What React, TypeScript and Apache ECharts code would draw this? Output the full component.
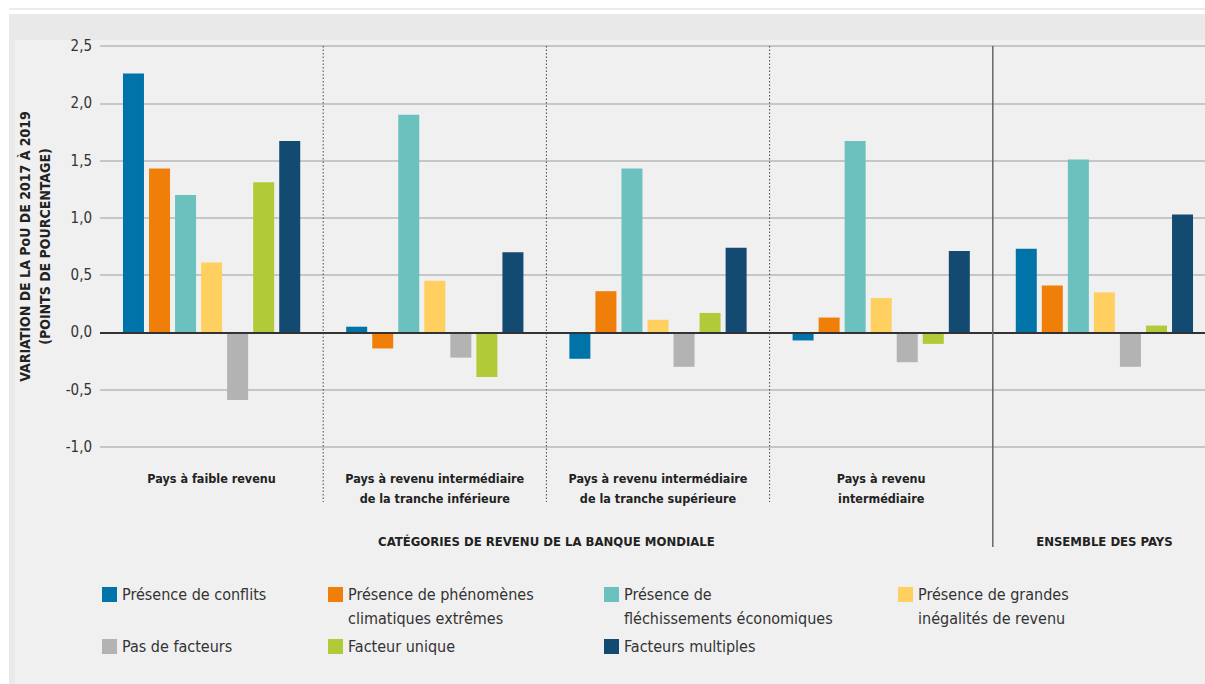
import React, { useEffect, useRef } from "react";
import * as echarts from "echarts";

const categories = [
  "Pays à faible revenu",
  "Pays à revenu intermédiaire\nde la tranche inférieure",
  "Pays à revenu intermédiaire\nde la tranche supérieure",
  "Pays à revenu\nintermédiaire",
  "Ensemble des pays",
];

const seriesNames = [
  "Présence de conflits",
  "Présence de phénomènes\nclimatiques extrêmes",
  "Présence de\nfléchissements économiques",
  "Présence de grandes\ninégalités de revenu",
  "Pas de facteurs",
  "Facteur unique",
  "Facteurs multiples",
];

const conflits = [2.26, 0.05, -0.23, -0.07, 0.73];
const climat = [1.43, -0.14, 0.36, 0.13, 0.41];
const flechissements = [1.2, 1.9, 1.43, 1.67, 1.51];
const inegalites = [0.61, 0.45, 0.11, 0.3, 0.35];
const pasDeFacteurs = [-0.59, -0.22, -0.3, -0.26, -0.3];
const facteurUnique = [1.31, -0.39, 0.17, -0.1, 0.06];
const facteursMultiples = [1.67, 0.7, 0.74, 0.71, 1.03];

const seriesValues = [conflits, climat, flechissements, inegalites, pasDeFacteurs, facteurUnique, facteursMultiples];
const colors = ["#0073A8", "#F07F09", "#6BC1BE", "#FFCF60", "#B3B3B3", "#B0CA38", "#124A72"];

const yMin = -1;
const yMax = 2.5;
const yStep = 0.5;

const yTitle = "VARIATION DE LA PoU DE 2017 À 2019\n(POINTS DE POURCENTAGE)";
const groupTitle = "CATÉGORIES DE REVENU DE LA BANQUE MONDIALE";
const allTitle = "ENSEMBLE DES PAYS";

const NARROW = "'DejaVu Sans Condensed', 'Liberation Sans Narrow', sans-serif";
const LEGEND_FONT = "'DejaVu Sans Condensed', 'Liberation Sans Narrow', sans-serif";

const VIEW_W = 1205;
const CHART_W = 1216;
const H = 684;

// legend layout: [left, iconTop]
const legendPos = [
  [102, 587],
  [328, 587],
  [604, 587],
  [898, 587],
  [102, 639],
  [328, 639],
  [604, 639],
];

export default function App() {
  const ref = useRef<HTMLDivElement>(null);

  useEffect(() => {
    if (!ref.current) return;
    const chart = echarts.init(ref.current, undefined, { renderer: "svg" });

    const legends = seriesNames.map((name, i) => {
      const twoLine = name.includes("\n");
      const iconH = 15;
      const L = 24;
      const offset = twoLine ? (3 * L) / 2 - iconH / 2 : L / 2 - iconH / 2;
      return {
        data: [name],
        left: legendPos[i][0],
        top: legendPos[i][1] - offset,
        padding: 0,
        icon: "rect",
        itemWidth: 15,
        itemHeight: iconH,
        selectedMode: false,
        formatter: (n: string) => (n.includes("\n") ? "\n" + n : n),
        textStyle: {
          fontFamily: LEGEND_FONT,
          fontSize: 16,
          color: "#333",
          lineHeight: L,
        },
      };
    });

    const series = seriesNames.map((name, i) => {
      const s: any = {
        name,
        type: "bar",
        data: seriesValues[i],
        barWidth: 21,
        barGap: "24%",
        itemStyle: { color: colors[i] },
        emphasis: { disabled: true },
      };
      if (i === seriesNames.length - 1) {
        s.markLine = {
          silent: true,
          symbol: "none",
          label: { show: false },
          lineStyle: { color: "#333", width: 2, type: "solid" },
          data: [{ yAxis: 0 }],
        };
      }
      return s;
    });

    chart.setOption({
      animation: false,
      backgroundColor: "#f0f0f0",
      color: colors,
      grid: { left: 100, right: 0, top: 46, bottom: 237, containLabel: false },
      legend: legends,
      xAxis: {
        type: "category",
        data: categories,
        axisLine: { show: false },
        axisTick: { show: false },
        splitLine: { show: false },
        axisLabel: {
          interval: 0,
          margin: 21,
          fontFamily: NARROW,
          fontSize: 12.5,
          fontWeight: "bold",
          lineHeight: 20,
          color: "#222",
          formatter: (v: string, i: number) => (i === categories.length - 1 ? "" : v),
        },
      },
      yAxis: {
        type: "value",
        min: yMin,
        max: yMax,
        interval: yStep,
        axisLine: { show: false },
        axisTick: { show: false },
        axisLabel: {
          margin: 8,
          fontFamily: NARROW,
          fontSize: 15,
          color: "#333",
          formatter: (v: number) => v.toFixed(1).replace(".", ","),
        },
        splitLine: { lineStyle: { color: "#b8b8b8", width: 1.5 } },
        name: yTitle,
        nameLocation: "middle",
        nameGap: 45,
        nameRotate: 90,
        nameTextStyle: {
          fontFamily: NARROW,
          fontSize: 14,
          fontWeight: "bold",
          lineHeight: 20,
          color: "#222",
        },
      },
      series,
    });

    const cx = categories.map((_, i) => chart.convertToPixel({ xAxisIndex: 0 }, i) as number);
    const step = cx[1] - cx[0];
    const leftEdge = cx[0] - step / 2;
    const yTop = chart.convertToPixel({ yAxisIndex: 0 }, yMax) as number;
    const bounds = [1, 2, 3, 4].map((i) => (cx[i - 1] + cx[i]) / 2);

    const graphics: any[] = [
      { type: "rect", silent: true, z: -10, shape: { x: 0, y: 0, width: CHART_W, height: 14 }, style: { fill: "#ffffff" } },
      { type: "rect", silent: true, z: -10, shape: { x: 0, y: 8, width: CHART_W, height: 2 }, style: { fill: "#ebebeb" } },
      { type: "rect", silent: true, z: -10, shape: { x: 0, y: 0, width: 9, height: H }, style: { fill: "#ffffff" } },
      { type: "rect", silent: true, z: -10, shape: { x: 9, y: 14, width: CHART_W - 9, height: 26 }, style: { fill: "#e9e9e9" } },
      { type: "rect", silent: true, z: -10, shape: { x: 9, y: 14, width: 6, height: H - 14 }, style: { fill: "#e9e9e9" } },
    ];
    bounds.forEach((bx, k) => {
      const solid = k === bounds.length - 1;
      graphics.push({
        type: "line",
        silent: true,
        z: 5,
        shape: { x1: bx, y1: yTop, x2: bx, y2: solid ? 547 : 502 },
        style: solid
          ? { stroke: "#666", lineWidth: 1.5 }
          : { stroke: "#444", lineWidth: 1, lineDash: [1.5, 2] },
      });
    });
    graphics.push({
      type: "text",
      silent: true,
      x: (leftEdge + bounds[3]) / 2,
      y: 541,
      style: { text: groupTitle, fill: "#222", fontFamily: NARROW, fontSize: 13, fontWeight: "bold", align: "center", verticalAlign: "middle" },
    });
    graphics.push({
      type: "text",
      silent: true,
      x: cx[4],
      y: 541,
      style: { text: allTitle, fill: "#222", fontFamily: NARROW, fontSize: 13, fontWeight: "bold", align: "center", verticalAlign: "middle" },
    });

    chart.setOption({ graphic: graphics });

    return () => chart.dispose();
  }, []);

  return (
    <div style={{ position: "absolute", left: 0, top: 0, width: VIEW_W, height: H, overflow: "hidden" }}>
      <div ref={ref} style={{ width: CHART_W, height: H }} />
    </div>
  );
}
